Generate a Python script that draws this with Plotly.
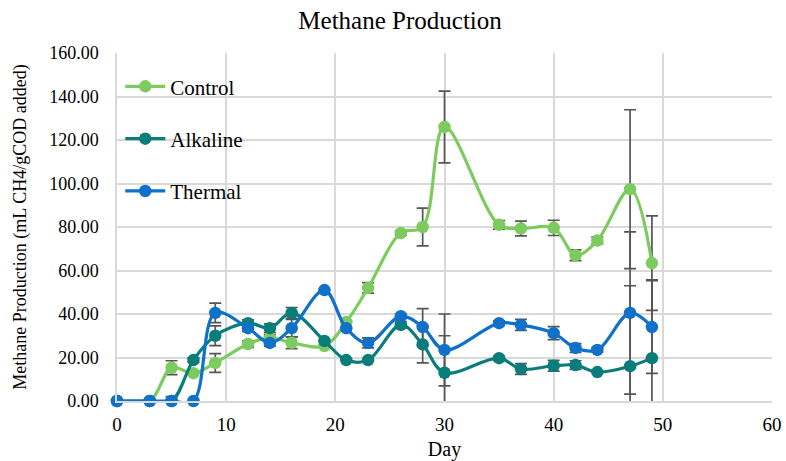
import plotly.graph_objects as go

days = [0, 3, 5, 7, 9, 12, 14, 16, 19, 21, 23, 26, 28, 30, 35, 37, 40, 42, 44, 47, 49]

control = [0, 0, 15.3, 12.8, 17.5, 26.2, 29.0, 26.8, 25.3, 36.3, 52.0, 77.2, 80.0, 126.0,
           81.0, 79.3, 79.6, 67.0, 73.8, 97.4, 63.4]
control_err = [0, 0, 3.2, 0, 4.3, 1.5, 1.5, 2.7, 0, 0, 2.4, 1.0, 8.7, 16.5,
               2.0, 3.4, 3.5, 2.5, 1.5, 36.5, 21.7]

alkaline = [0, 0, 0, 18.8, 30.0, 35.8, 33.5, 40.5, 27.6, 18.8, 18.8, 35.0, 26.0, 13.0,
            19.7, 14.7, 16.2, 16.5, 13.3, 16.0, 19.7]
alkaline_err = [0, 0, 2.0, 1.0, 4.5, 1.5, 2.0, 2.5, 0, 0, 0, 1.5, 8.5, 17.0,
                1.0, 2.5, 2.5, 2.0, 0, 37.0, 36.0]

thermal = [0, 0, 0, 0, 40.5, 33.5, 26.7, 33.5, 51.0, 33.5, 26.7, 39.0, 34.0, 23.5,
           35.8, 35.0, 31.2, 24.4, 23.5, 40.5, 34.0]
thermal_err = [0, 0, 0, 0, 4.5, 1.5, 1.5, 4.0, 0, 0, 2.3, 1.0, 8.5, 16.5,
               1.0, 2.5, 3.0, 2.0, 1.0, 37.3, 21.3]

series = [
    ("Control", control, control_err, "#7DCB5F"),
    ("Alkaline", alkaline, alkaline_err, "#0A7D7B"),
    ("Thermal", thermal, thermal_err, "#1170C9"),
]

FONT = "Times New Roman, Liberation Serif, serif"

fig = go.Figure()

# error bars (clipped to plot area)
for name, ys, errs, color in series:
    fig.add_trace(go.Scatter(
        x=days, y=ys, mode="lines", line=dict(width=0, color="rgba(0,0,0,0)"),
        error_y=dict(type="data", array=errs, visible=True, color="#555555",
                     thickness=1.7, width=6),
        showlegend=False, hoverinfo="skip", cliponaxis=True,
    ))

# lines and markers
for name, ys, errs, color in series:
    fig.add_trace(go.Scatter(
        x=days, y=ys, name=name, mode="lines+markers",
        line=dict(color=color, width=3.2, shape="spline", smoothing=1.0),
        marker=dict(color=color, size=12.5),
        cliponaxis=False, legendgroup=name,
    ))

fig.update_layout(
    width=786, height=461,
    margin=dict(l=117, r=14, t=53, b=60),
    paper_bgcolor="white", plot_bgcolor="white",
    font=dict(family=FONT, size=18, color="#000000"),
    title=dict(text="Methane Production", x=0.509, xanchor="center", y=0.957, yanchor="middle",
               font=dict(family=FONT, size=25, color="#000000")),
    legend=dict(x=0.005, y=0.962, xanchor="left", yanchor="top",
                bgcolor="rgba(0,0,0,0)", tracegroupgap=22, itemwidth=40,
                font=dict(family=FONT, size=21, color="#000000")),
    showlegend=True,
)

fig.update_xaxes(
    range=[0, 60], dtick=10, tick0=0, automargin=False,
    showgrid=True, gridcolor="#D9D9D9", gridwidth=1.5,
    showline=True, linecolor="#D9D9D9", linewidth=1.5,
    zeroline=False, ticks="outside", ticklen=5, tickcolor="rgba(0,0,0,0)",
    tickfont=dict(family=FONT, size=19, color="#000000"),
    title=dict(text="Day", standoff=9, font=dict(family=FONT, size=20, color="#000000")),
)
fig.update_yaxes(
    range=[0, 160], dtick=20, tick0=0, tickformat=".2f", automargin=False,
    showgrid=True, gridcolor="#D9D9D9", gridwidth=1.5,
    showline=True, linecolor="#D9D9D9", linewidth=1.5,
    zeroline=False, ticks="outside", ticklen=13, tickcolor="rgba(0,0,0,0)",
    tickfont=dict(family=FONT, size=18, color="#000000"),
    title=dict(text="Methane Production (mL CH4/gCOD added)", standoff=18,
               font=dict(family=FONT, size=18, color="#000000")),
)

fig.write_html("out.html", config={"displayModeBar": False},
               post_script="document.body.style.margin='0';")
